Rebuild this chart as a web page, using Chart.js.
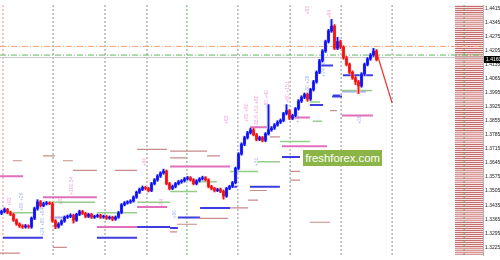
<!DOCTYPE html>
<html>
<head>
<meta charset="utf-8">
<script src="https://cdn.jsdelivr.net/npm/chart.js@4.4.1/dist/chart.umd.min.js"></script>
<style>
  html, body { margin: 0; padding: 0; background: #fff; }
  #wrap { position: relative; width: 500px; height: 260px; }
  #logo {
    position: absolute; left: 303px; top: 150px; width: 79px; height: 16px;
    background: #8cb548; color: #fff; font: 11.3px "Liberation Sans", Arial, sans-serif;
    line-height: 16px; text-align: center;
  }
</style>
</head>
<body>
<div id="wrap">
  <canvas id="chart" width="500" height="260"></canvas>
  <div id="logo">freshforex.com</div>
</div>
<script>
// candles (one per ~3px)
const opens = [
  1.3395,1.3403,1.3413,1.3398,1.3389,1.3360,1.3341,1.3332,1.3327,1.3332,
  1.3327,1.3370,1.3418,1.3451,1.3432,1.3442,1.3446,1.3442,1.3356,1.3327,
  1.3341,1.3356,1.3375,1.3379,1.3384,1.3360,1.3389,1.3403,1.3394,1.3379,
  1.3389,1.3375,1.3379,1.3384,1.3375,1.3379,1.3370,1.3375,1.3365,1.3375,
  1.3398,1.3437,1.3446,1.3451,1.3456,1.3475,1.3499,1.3513,1.3523,1.3518,
  1.3508,1.3542,1.3561,1.3580,1.3595,1.3604,1.3542,1.3518,1.3528,1.3542,
  1.3551,1.3556,1.3566,1.3571,1.3561,1.3542,1.3556,1.3566,1.3571,1.3561,
  1.3528,1.3518,1.3508,1.3513,1.3504,1.3480,1.3518,1.3528,1.3547,1.3618,
  1.3690,1.3738,1.3771,1.3795,1.3810,1.3786,1.3762,1.3771,1.3757,1.3790,
  1.3810,1.3819,1.3834,1.3848,1.3857,1.3891,1.3905,1.3867,1.3881,1.3915,
  1.3953,1.3972,1.3986,1.3963,1.4010,1.4049,1.4096,1.4154,1.4202,1.4249,
  1.4302,1.4326,1.4216,1.4249,1.4221,1.4168,1.4135,1.4096,1.4068,1.4049,
  1.4029,1.4087,1.4135,1.4163,1.4182,1.4202
];
const highs = [
  1.3410,1.3421,1.3419,1.3405,1.3394,1.3366,1.3347,1.3338,1.3339,1.3337,
  1.3376,1.3425,1.3462,1.3458,1.3449,1.3453,1.3451,1.3449,1.3363,1.3348,
  1.3362,1.3381,1.3386,1.3392,1.3390,1.3395,1.3410,1.3409,1.3400,1.3395,
  1.3394,1.3385,1.3390,1.3390,1.3385,1.3384,1.3381,1.3380,1.3381,1.3404,
  1.3443,1.3453,1.3457,1.3462,1.3481,1.3505,1.3520,1.3530,1.3529,1.3524,
  1.3548,1.3567,1.3587,1.3601,1.3614,1.3610,1.3548,1.3535,1.3548,1.3558,
  1.3562,1.3573,1.3578,1.3577,1.3567,1.3562,1.3572,1.3579,1.3577,1.3566,
  1.3534,1.3524,1.3519,1.3520,1.3510,1.3524,1.3534,1.3553,1.3624,1.3696,
  1.3745,1.3778,1.3802,1.3818,1.3817,1.3792,1.3778,1.3777,1.3796,1.3935,
  1.3826,1.3841,1.3855,1.3864,1.3897,1.3935,1.3911,1.3888,1.3921,1.3960,
  1.3979,1.3993,1.3992,1.4016,1.4056,1.4103,1.4161,1.4209,1.4256,1.4310,
  1.4359,1.4333,1.4270,1.4256,1.4228,1.4175,1.4142,1.4103,1.4075,1.4056,
  1.4094,1.4142,1.4170,1.4189,1.4215,1.4209
];
const lows = [
  1.3388,1.3398,1.3392,1.3383,1.3354,1.3335,1.3324,1.3319,1.3321,1.3320,
  1.3320,1.3363,1.3410,1.3426,1.3427,1.3436,1.3437,1.3350,1.3318,1.3321,
  1.3335,1.3350,1.3369,1.3373,1.3346,1.3354,1.3383,1.3388,1.3372,1.3373,
  1.3369,1.3369,1.3374,1.3369,1.3370,1.3364,1.3365,1.3358,1.3360,1.3370,
  1.3392,1.3431,1.3440,1.3444,1.3450,1.3469,1.3493,1.3507,1.3511,1.3501,
  1.3502,1.3536,1.3554,1.3573,1.3589,1.3536,1.3511,1.3512,1.3521,1.3536,
  1.3544,1.3550,1.3560,1.3555,1.3536,1.3536,1.3550,1.3560,1.3555,1.3521,
  1.3511,1.3501,1.3502,1.3497,1.3465,1.3474,1.3512,1.3522,1.3541,1.3612,
  1.3684,1.3731,1.3764,1.3789,1.3780,1.3755,1.3756,1.3750,1.3751,1.3784,
  1.3803,1.3812,1.3828,1.3841,1.3850,1.3884,1.3860,1.3860,1.3875,1.3908,
  1.3946,1.3965,1.3952,1.3956,1.4003,1.4042,1.4089,1.4147,1.4195,1.4242,
  1.4295,1.4209,1.4209,1.4214,1.4161,1.4128,1.4089,1.4061,1.4035,1.3990,
  1.4022,1.4080,1.4128,1.4156,1.4175,1.4153
];
const closes = [
  1.3403,1.3413,1.3398,1.3389,1.3360,1.3341,1.3332,1.3327,1.3332,1.3327,
  1.3370,1.3418,1.3451,1.3432,1.3442,1.3446,1.3442,1.3356,1.3327,1.3341,
  1.3356,1.3375,1.3379,1.3384,1.3360,1.3389,1.3403,1.3394,1.3379,1.3389,
  1.3375,1.3379,1.3384,1.3375,1.3379,1.3370,1.3375,1.3365,1.3375,1.3398,
  1.3437,1.3446,1.3451,1.3456,1.3475,1.3499,1.3513,1.3523,1.3518,1.3508,
  1.3542,1.3561,1.3580,1.3595,1.3604,1.3542,1.3518,1.3528,1.3542,1.3551,
  1.3556,1.3566,1.3571,1.3561,1.3542,1.3556,1.3566,1.3571,1.3561,1.3528,
  1.3518,1.3508,1.3513,1.3504,1.3480,1.3518,1.3528,1.3547,1.3618,1.3690,
  1.3738,1.3771,1.3795,1.3810,1.3786,1.3762,1.3771,1.3757,1.3790,1.3810,
  1.3819,1.3834,1.3848,1.3857,1.3891,1.3905,1.3867,1.3881,1.3915,1.3953,
  1.3972,1.3986,1.3963,1.4010,1.4049,1.4096,1.4154,1.4202,1.4249,1.4302,
  1.4326,1.4216,1.4249,1.4221,1.4168,1.4135,1.4096,1.4068,1.4049,1.4029,
  1.4087,1.4135,1.4163,1.4182,1.4202,1.4160
];

// price axis labels
const priceTicks = [1.4415,1.4345,1.4275,1.4205,1.4135,1.4065,1.3995,1.3925,1.3855,
  1.3785,1.3715,1.3645,1.3575,1.3505,1.3435,1.3365,1.3295,1.3225];
const lastPrice = 1.4160;
const bidLine = 1.4170;
const orangeLine = 1.4225;
const greenLine = 1.4182;

// session separators (in candle units)
const grayBreaks = [17.2, 34.5, 48.5, 78.8, 96.2, 113.2, 130.2];
const greenBreaks = [61.8, 154.2];
const redBreaks = [0.5];

// forecast leg
const forecast = [[125.2, 1.4187], [130.2, 1.3943]];

// horizontal levels: [from, to, price]
const pinkLevels = [
  [-0.5, 7.2, 1.3579], [13.8, 31.8, 1.3474], [31.8, 45.2, 1.3326], [45.2, 55.2, 1.3426],
  [56.2, 76.2, 1.3627], [82.8, 89.5, 1.3823], [93.5, 108.5, 1.3728], [96.2, 102.8, 1.3871],
  [113.5, 123.8, 1.3881]
];
const brownLevels = [
  [3.8, 6.8, 1.3656], [13.8, 17.8, 1.3680], [20.5, 23.8, 1.3656], [23.8, 31.8, 1.3608],
  [37.8, 45.2, 1.3608], [45.2, 55.2, 1.3713], [56.2, 68.5, 1.3704], [68.5, 72.8, 1.3680],
  [56.2, 61.8, 1.3670], [-0.5, 6.2, 1.3196], [17.2, 21.8, 1.3225], [76.2, 82.2, 1.3421],
  [82.8, 88.5, 1.3508], [82.2, 85.5, 1.3460], [96.2, 99.5, 1.3603], [96.2, 99.5, 1.3560],
  [89.5, 92.8, 1.3775], [109.5, 111.8, 1.3905], [65.2, 75.5, 1.3369], [58.5, 65.2, 1.3340],
  [56.2, 58.5, 1.3302], [102.8, 109.5, 1.3350]
];
const greenLevels = [
  [-0.5, 10.5, 1.3397], [13.8, 31.2, 1.3450], [31.8, 45.2, 1.3397], [45.2, 56.2, 1.3450],
  [56.2, 65.2, 1.3503], [65.2, 71.8, 1.3551], [76.2, 85.5, 1.3603], [85.5, 92.8, 1.3651],
  [92.8, 102.8, 1.3752], [102.8, 106.2, 1.3948], [113.5, 123.5, 1.4005], [103.8, 106.8, 1.3852]
];
const blueLevels = [
  [0.5, 13.8, 1.3273], [31.8, 45.2, 1.3273], [45.2, 56.2, 1.3326], [66.2, 76.2, 1.3421],
  [58.8, 66.2, 1.3374], [56.2, 58.8, 1.3321], [76.2, 78.5, 1.3527], [82.8, 92.8, 1.3527],
  [93.5, 99.5, 1.3675], [102.8, 107.2, 1.3933], [110.5, 112.8, 1.3981], [106.2, 110.5, 1.4130],
  [113.8, 123.8, 1.4082], [110.2, 113.5, 1.3976]
];
const paleBlueLevels = [[16.2, 21.8, 1.3374], [113.5, 121.5, 1.4000]];

// small rotated tags on the levels: [x, price, text]
const pinkTags = [
  [2.8, 1.3452, "+83"], [23.5, 1.3531, "+100.54"], [19.8, 1.3458, "+62"],
  [47.8, 1.3650, "+80"], [53.5, 1.3445, "+84"], [75.2, 1.3860, "+83"],
  [81.8, 1.3895, "+80 +60"], [85.2, 1.3900, "+18.8 +51 +80"], [88.5, 1.3962, "+80 +40"],
  [95.5, 1.3998, "+80 +151"], [102.2, 1.4405, "+83"], [109.5, 1.4385, "+64"]
];
const blueTags = [
  [6.8, 1.3452, "+80 +26"], [13.7, 1.3352, "+24 +80 +64"], [57.8, 1.3390, "+80"],
  [78.8, 1.3613, "+26"], [85.2, 1.3650, "+31"], [98.8, 1.3872, "+100"],
  [102.2, 1.4035, "+80 +26"], [107.5, 1.4120, "+24 +80"], [119.5, 1.3860, "+26"]
];

const yMin = 1.3187, yMax = 1.4431;
const xMin = -0.5, xMax = 160.5;
const panelFrom = 151.2;

const upColor = "#1010f2";
const downColor = "#f21010";
const upGhost = "#c4cefa";
const downGhost = "#f9c6c6";
const isUp = closes.map((c, i) => c >= opens[i]);

function levelPoints(list) {
  const pts = [];
  list.forEach(([a, b, p]) => pts.push({x: a, y: p}, {x: b, y: p}, {x: b, y: null}));
  return pts;
}

function breakPoints(list) {
  const pts = [];
  list.forEach(u => pts.push({x: u, y: yMin}, {x: u, y: yMax}, {x: u, y: null}));
  return pts;
}

function levelSet(list, color, width) {
  return {
    type: "line", data: levelPoints(list), borderColor: color, borderWidth: width,
    pointRadius: 0, spanGaps: false, order: 5
  };
}

function breakSet(list, color) {
  return {
    type: "line", data: breakPoints(list), borderColor: color, borderWidth: 1,
    borderDash: [2, 2], pointRadius: 0, spanGaps: false, order: 9
  };
}

function wideLine(price, color, dash) {
  return {
    type: "line", data: [{x: xMin, y: price}, {x: xMax, y: price}], borderColor: color,
    borderWidth: 1, borderDash: dash, pointRadius: 0, order: 8
  };
}

function drawTags(ctx, scales, list, color) {
  ctx.fillStyle = color;
  list.forEach(([x, p, t]) => {
    ctx.save();
    ctx.translate(scales.x.getPixelForValue(x), scales.y.getPixelForValue(p));
    ctx.rotate(-Math.PI / 2);
    ctx.fillText(t, 0, 0);
    ctx.restore();
  });
}

// striped level panel at the right side, tags and the price box
const extras = {
  id: "extras",
  beforeDatasetsDraw(chart) {
    const {ctx, chartArea, scales} = chart;
    const left = Math.round(scales.x.getPixelForValue(panelFrom));
    ctx.save();
    for (let y = chartArea.top; y < chartArea.bottom; y += 2) {
      const band = Math.floor(y / 13) % 3;
      ctx.fillStyle = band === 1 ? "#f2d3d3" : "#f6e3e3";
      ctx.fillRect(left, y, chartArea.right - left, 1);
      ctx.fillStyle = band === 1 ? "#d99a9a" : "#c66f6f";
      ctx.fillRect(left, y + 1, chartArea.right - left, 1);
    }
    ctx.font = "5px 'Liberation Sans', sans-serif";
    ctx.textAlign = "center";
    ctx.textBaseline = "middle";
    drawTags(ctx, scales, pinkTags, "#efa6d8");
    drawTags(ctx, scales, blueTags, "#a8b8ee");
    ctx.restore();
  },
  afterDraw(chart) {
    const {ctx, chartArea, scales} = chart;
    const y = Math.round(scales.y.getPixelForValue(lastPrice));
    ctx.save();
    ctx.fillStyle = "#000";
    ctx.fillRect(chartArea.right + 1, y - 3, 500 - chartArea.right - 1, 7);
    ctx.fillStyle = "#fff";
    ctx.font = "5px 'Liberation Sans Narrow', 'Liberation Sans', sans-serif";
    ctx.textBaseline = "middle";
    ctx.fillText(lastPrice.toFixed(4), chartArea.right + 3, y + 0.5);
    ctx.restore();
  }
};

new Chart(document.getElementById("chart"), {
  type: "bar",
  data: {
    datasets: [
      {
        data: closes.map((c, i) => ({x: i, y: [opens[i], c]})),
        backgroundColor: isUp.map(u => u ? upColor : downColor), barThickness: 2,
        grouped: false, minBarLength: 1, order: 1
      },
      {
        data: closes.map((c, i) => ({x: i, y: [lows[i], highs[i]]})),
        backgroundColor: isUp.map(u => u ? upColor : downColor), barThickness: 1,
        grouped: false, order: 2
      },
      {
        data: closes.map((c, i) => ({x: i, y: [lows[i], highs[i]]})),
        backgroundColor: isUp.map(u => u ? upGhost : downGhost), barThickness: 3,
        grouped: false, order: 4
      },
      {
        type: "line", data: forecast.map(([x, y]) => ({x, y})), borderColor: "#f03a3a",
        borderWidth: 1.3, pointRadius: 0, order: 3
      },
      levelSet(pinkLevels, "#e070bc", 2),
      levelSet(brownLevels, "#c98b8b", 1.2),
      levelSet(greenLevels, "#96cc8c", 1.5),
      levelSet(blueLevels, "#3c3ce0", 2),
      levelSet(paleBlueLevels, "#a8a8f0", 2),
      wideLine(orangeLine, "#f0a078", [6, 2, 1, 2]),
      wideLine(greenLine, "#5cb85c", [6, 2, 1, 2]),
      wideLine(bidLine, "#c8c8c8", []),
      breakSet(grayBreaks, "#8c8c8c"),
      breakSet(greenBreaks, "#62a862"),
      breakSet(redBreaks, "#f08c8c")
    ]
  },
  options: {
    responsive: false,
    animation: false,
    events: [],
    layout: { padding: 0 },
    plugins: { legend: { display: false }, tooltip: { enabled: false } },
    scales: {
      x: { type: "linear", min: xMin, max: xMax, offset: false, display: false },
      y: {
        type: "linear", position: "right", min: yMin, max: yMax,
        grid: { display: false, drawTicks: false },
        border: { display: true, color: "#b4b4b4" },
        afterBuildTicks: s => { s.ticks = priceTicks.map(v => ({value: v})); },
        afterFit: s => { s.width = 17; },
        ticks: {
          padding: 2, color: "#222",
          font: { size: 5, family: "'Liberation Sans Narrow', 'Liberation Sans', sans-serif" },
          callback: v => Number(v).toFixed(4)
        }
      }
    }
  },
  plugins: [extras]
});
</script>
</body>
</html>
